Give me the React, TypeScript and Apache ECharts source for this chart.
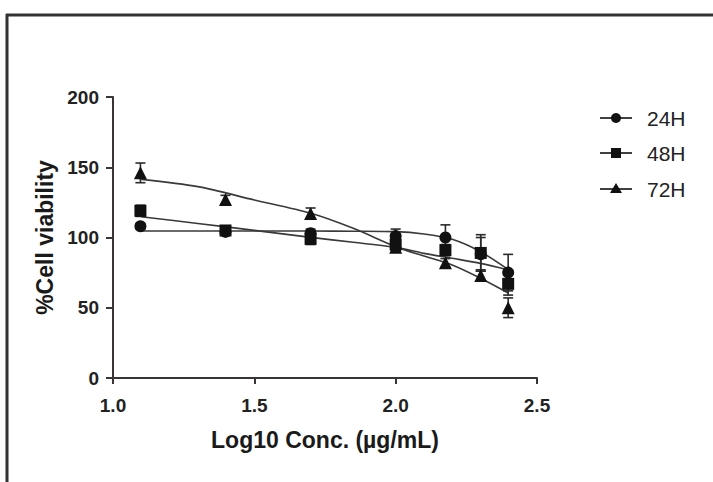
import React, { useEffect, useRef } from "react";
import * as echarts from "echarts";

const logConc = [1.097, 1.398, 1.699, 2.0, 2.176, 2.301, 2.398];
const v24 = [108, 104, 103, 101, 100, 88, 75];
const e24 = [2, 2, 3, 5, 9, 12, 13];
const v48 = [119, 105, 99, 95, 91, 89, 67];
const e48 = [4, 3, 4, 4, 4, 13, 8];
const v72 = [146, 127, 117, 93, 82, 73, 50];
const e72 = [7, 3, 4, 3, 3, 4, 7];
// fitted curves at these log-concentrations
const fitX = [1.1, 1.3, 1.5, 1.7, 1.85, 2.0, 2.1, 2.2, 2.3, 2.4];
const fit24 = [104.6, 104.6, 104.6, 104.6, 104.5, 104.2, 102.5, 98.7, 89.9, 76.9];
const fit48 = [114.8, 110, 105.1, 100.1, 96.6, 93, 88.7, 85.2, 81.6, 76.9];
const fit72 = [141.4, 136.2, 126.7, 117.2, 106.5, 93.5, 86.8, 80.4, 71, 60.3];
const xTicks = [1.0, 1.5, 2.0, 2.5];
const yTicks = [0, 50, 100, 150, 200];
const seriesNames = ["24H", "48H", "72H"];

const FONT = "'Liberation Sans', Arial, Helvetica, sans-serif";
const INK = "#2b2b2b";

function pairs(xs: number[], ys: number[]) {
  return xs.map((x, i) => [x, ys[i]]);
}
function errs(ys: number[], es: number[]) {
  return logConc.map((x, i) => [x, ys[i] - es[i], ys[i] + es[i]]);
}

export default function App() {
  const ref = useRef<HTMLDivElement>(null);
  useEffect(() => {
    if (!ref.current) return;
    const chart = echarts.init(ref.current, null, { renderer: "svg" });

    const errSeries = (name: string, ys: number[], es: number[]) => ({
      name: name + " err",
      type: "custom",
      z: 3,
      silent: true,
      data: errs(ys, es),
      renderItem: (params: any, api: any) => {
        const x = api.value(0);
        const lo = api.coord([x, api.value(1)]);
        const hi = api.coord([x, api.value(2)]);
        const w = 5;
        const st = { stroke: INK, lineWidth: 1.6 };
        return {
          type: "group",
          children: [
            { type: "line", shape: { x1: lo[0], y1: lo[1], x2: hi[0], y2: hi[1] }, style: st },
            { type: "line", shape: { x1: hi[0] - w, y1: hi[1], x2: hi[0] + w, y2: hi[1] }, style: st },
            { type: "line", shape: { x1: lo[0] - w, y1: lo[1], x2: lo[0] + w, y2: lo[1] }, style: st },
          ],
        };
      },
    });

    const fitSeries = (name: string, ys: number[]) => ({
      name: name + " fit",
      type: "line",
      data: pairs(fitX, ys),
      smooth: 0.3,
      showSymbol: false,
      symbol: "none",
      z: 2,
      lineStyle: { color: "#3a3a3a", width: 1.6 },
    });

    const ptSeries = (name: string, ys: number[], symbol: string, size: number) => ({
      name,
      type: "scatter",
      data: pairs(logConc, ys),
      symbol,
      symbolSize: size,
      z: 5,
      itemStyle: { color: "#111", opacity: 1 },
    });

    const legendY = [118, 153, 189];
    const legendGraphics: any[] = [];
    seriesNames.forEach((n, i) => {
      const y = legendY[i];
      legendGraphics.push({
        type: "line",
        shape: { x1: 600, y1: y, x2: 632, y2: y },
        style: { stroke: INK, lineWidth: 1.8 },
      });
      if (i === 0) {
        legendGraphics.push({ type: "circle", shape: { cx: 616, cy: y, r: 5 }, style: { fill: "#111" } });
      } else if (i === 1) {
        legendGraphics.push({ type: "rect", shape: { x: 611, y: y - 5, width: 10, height: 10 }, style: { fill: "#111" } });
      } else {
        legendGraphics.push({
          type: "polygon",
          shape: { points: [[616, y - 6], [622, y + 4], [610, y + 4]] },
          style: { fill: "#111" },
        });
      }
      legendGraphics.push({
        type: "text",
        x: 647,
        y,
        style: { text: n, font: `21px ${FONT}`, fill: "#222", verticalAlign: "middle", align: "left" },
      });
    });

    chart.setOption({
      animation: false,
      backgroundColor: "#ffffff",
      grid: { left: 113, top: 97, width: 424, height: 281, containLabel: false },
      xAxis: {
        type: "value",
        min: xTicks[0],
        max: xTicks[xTicks.length - 1],
        interval: 0.5,
        name: "Log10 Conc. (µg/mL)",
        nameLocation: "middle",
        nameGap: 50,
        nameTextStyle: { fontFamily: FONT, fontWeight: "bold", fontSize: 23, color: "#1a1a1a" },
        axisLine: { lineStyle: { color: "#3a3535", width: 2 } },
        axisTick: { show: true, length: 6, lineStyle: { color: "#3a3535", width: 2 } },
        axisLabel: {
          margin: 18,
          fontFamily: FONT,
          fontWeight: "bold",
          fontSize: 19,
          color: "#222",
          formatter: (v: number) => v.toFixed(1),
        },
        splitLine: { show: false },
      },
      yAxis: {
        type: "value",
        min: yTicks[0],
        max: yTicks[yTicks.length - 1],
        interval: 50,
        name: "%Cell viability",
        nameLocation: "middle",
        nameGap: 56,
        nameRotate: 90,
        nameTextStyle: { fontFamily: FONT, fontWeight: "bold", fontSize: 23, color: "#1a1a1a" },
        axisLine: { show: true, lineStyle: { color: "#3a3535", width: 2 } },
        axisTick: { show: true, length: 7, lineStyle: { color: "#3a3535", width: 2 } },
        axisLabel: { margin: 14, fontFamily: FONT, fontWeight: "bold", fontSize: 19, color: "#222" },
        splitLine: { show: false },
      },
      graphic: [
        { type: "line", shape: { x1: 6, y1: 15, x2: 713, y2: 15 }, style: { stroke: "#333", lineWidth: 3 } },
        { type: "line", shape: { x1: 7, y1: 14, x2: 7, y2: 482 }, style: { stroke: "#333", lineWidth: 3 } },
        ...legendGraphics,
      ],
      series: [
        fitSeries("24H", fit24),
        fitSeries("48H", fit48),
        fitSeries("72H", fit72),
        errSeries("24H", v24, e24),
        errSeries("48H", v48, e48),
        errSeries("72H", v72, e72),
        ptSeries("24H", v24, "circle", 12),
        ptSeries("48H", v48, "rect", 12),
        ptSeries("72H", v72, "triangle", 13),
      ],
    });
    return () => chart.dispose();
  }, []);
  return <div ref={ref} style={{ width: 713, height: 482, position: "fixed", left: 0, top: 0 }} />;
}
